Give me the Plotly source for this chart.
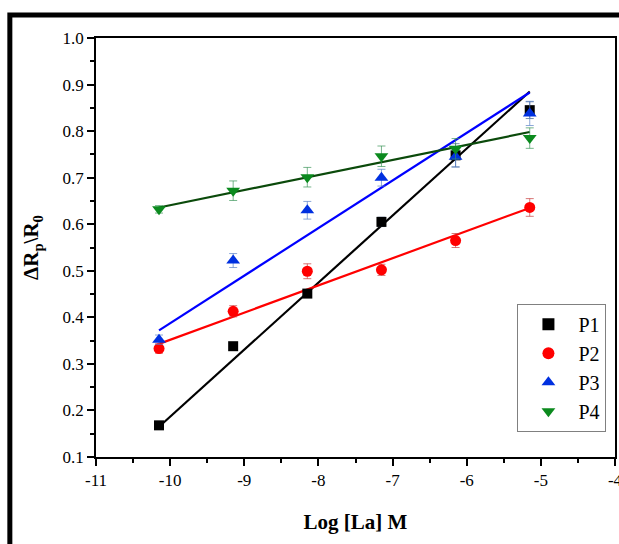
import plotly.graph_objects as go

# ---- data ----
log_conc = [-10.15, -9.15, -8.15, -7.15, -6.15, -5.15]
series_names = ["P1", "P2", "P3", "P4"]
p1 = [0.168, 0.338, 0.451, 0.605, 0.748, 0.845]
p2 = [0.333, 0.413, 0.499, 0.502, 0.565, 0.636]
p3 = [0.352, 0.522, 0.630, 0.700, 0.745, 0.838]
p4 = [0.632, 0.672, 0.701, 0.746, 0.762, 0.785]
p1_err = [0.006, 0.006, 0.008, 0.010, 0.025, 0.018]
p2_err = [0.010, 0.012, 0.016, 0.012, 0.015, 0.019]
p3_err = [0.010, 0.015, 0.019, 0.018, 0.022, 0.026]
p4_err = [0.008, 0.021, 0.021, 0.022, 0.022, 0.022]
# linear-fit lines (values at first and last concentration)
fit_x = [-10.15, -5.15]
p1_fit = [0.165, 0.885]
p2_fit = [0.343, 0.635]
p3_fit = [0.372, 0.883]
p4_fit = [0.636, 0.798]

x_tick_vals = [-11, -10, -9, -8, -7, -6, -5, -4]
x_tick_text = ["-11", "-10", "-9", "-8", "-7", "-6", "-5", "-4"]
y_tick_vals = [0.1, 0.2, 0.3, 0.4, 0.5, 0.6, 0.7, 0.8, 0.9, 1.0]
y_tick_text = ["0.1", "0.2", "0.3", "0.4", "0.5", "0.6", "0.7", "0.8", "0.9", "1.0"]

values = [p1, p2, p3, p4]
errors = [p1_err, p2_err, p3_err, p4_err]
fits = [p1_fit, p2_fit, p3_fit, p4_fit]
marker_colors = ["#000000", "#ff0000", "#0030e0", "#0b8a1e"]
err_colors = ["rgba(80,110,150,0.8)", "rgba(200,60,60,0.7)", "rgba(90,130,200,0.7)", "rgba(60,150,90,0.7)"]
line_colors = ["#000000", "#ff0000", "#0000ff", "#0b4a0b"]
symbols = ["square", "circle", "triangle-up", "triangle-down"]
sizes = [10, 11, 12, 12]

FONT = "Liberation Serif, Times New Roman, serif"

fig = go.Figure()

for name, fy, lc in zip(series_names, fits, line_colors):
    fig.add_trace(go.Scatter(x=fit_x, y=fy, mode="lines", line=dict(color=lc, width=2.2),
                             showlegend=False, hoverinfo="skip"))

for name, v, e, mc, ec, sym, sz in zip(series_names, values, errors, marker_colors, err_colors, symbols, sizes):
    fig.add_trace(go.Scatter(
        x=log_conc, y=v, mode="markers", name=name,
        marker=dict(symbol=sym, size=sz, color=mc, line=dict(width=0)),
        error_y=dict(type="data", array=e, visible=True, color=ec, thickness=1, width=4),
    ))

fig.update_layout(
    width=619, height=544,
    margin=dict(l=96, r=4, t=38, b=87, autoexpand=False),
    paper_bgcolor="white", plot_bgcolor="white",
    font=dict(family=FONT, color="black", size=16),
    showlegend=True,
    legend=dict(x=0.812, y=0.366, xanchor="left", yanchor="top",
                bordercolor="#808080", borderwidth=1, bgcolor="white",
                font=dict(family=FONT, size=20), tracegroupgap=0,
                itemsizing="constant", itemwidth=50),
    xaxis=dict(range=[-11, -4], tickvals=x_tick_vals, ticktext=x_tick_text,
               showgrid=False, zeroline=False, automargin=False, ticklabeloverflow="allow",
               showline=True, linecolor="black", linewidth=1.5, mirror=True,
               ticks="outside", ticklen=7, tickwidth=1.5, tickcolor="black",
               tickfont=dict(family=FONT, size=17),
               minor=dict(dtick=0.5, ticks="outside", ticklen=4, tickwidth=1.5, tickcolor="black"),
               title=dict(text="<b>Log [La] M</b>", font=dict(family=FONT, size=21), standoff=25)),
    yaxis=dict(range=[0.1, 1.0], tickvals=y_tick_vals, ticktext=y_tick_text,
               showgrid=False, zeroline=False, automargin=False, ticklabeloverflow="allow",
               showline=True, linecolor="black", linewidth=1.5, mirror=True,
               ticks="outside", ticklen=7, tickwidth=1.5, tickcolor="black",
               tickfont=dict(family=FONT, size=17),
               minor=dict(dtick=0.05, ticks="outside", ticklen=4, tickwidth=1.5, tickcolor="black"),
               title=dict(text="<b>ΔR<sub>p</sub>\\R<sub>0</sub></b>", font=dict(family=FONT, size=21), standoff=18)),
    shapes=[dict(type="rect", xref="paper", yref="paper", x0=-0.166, x1=1.05, y0=-0.25, y1=1.055,
                 line=dict(color="black", width=5), fillcolor="rgba(0,0,0,0)", layer="above")],
)

fig.write_html("out.html", config={"displayModeBar": False},
               post_script="document.body.style.margin='0';document.body.style.overflow='hidden';")
